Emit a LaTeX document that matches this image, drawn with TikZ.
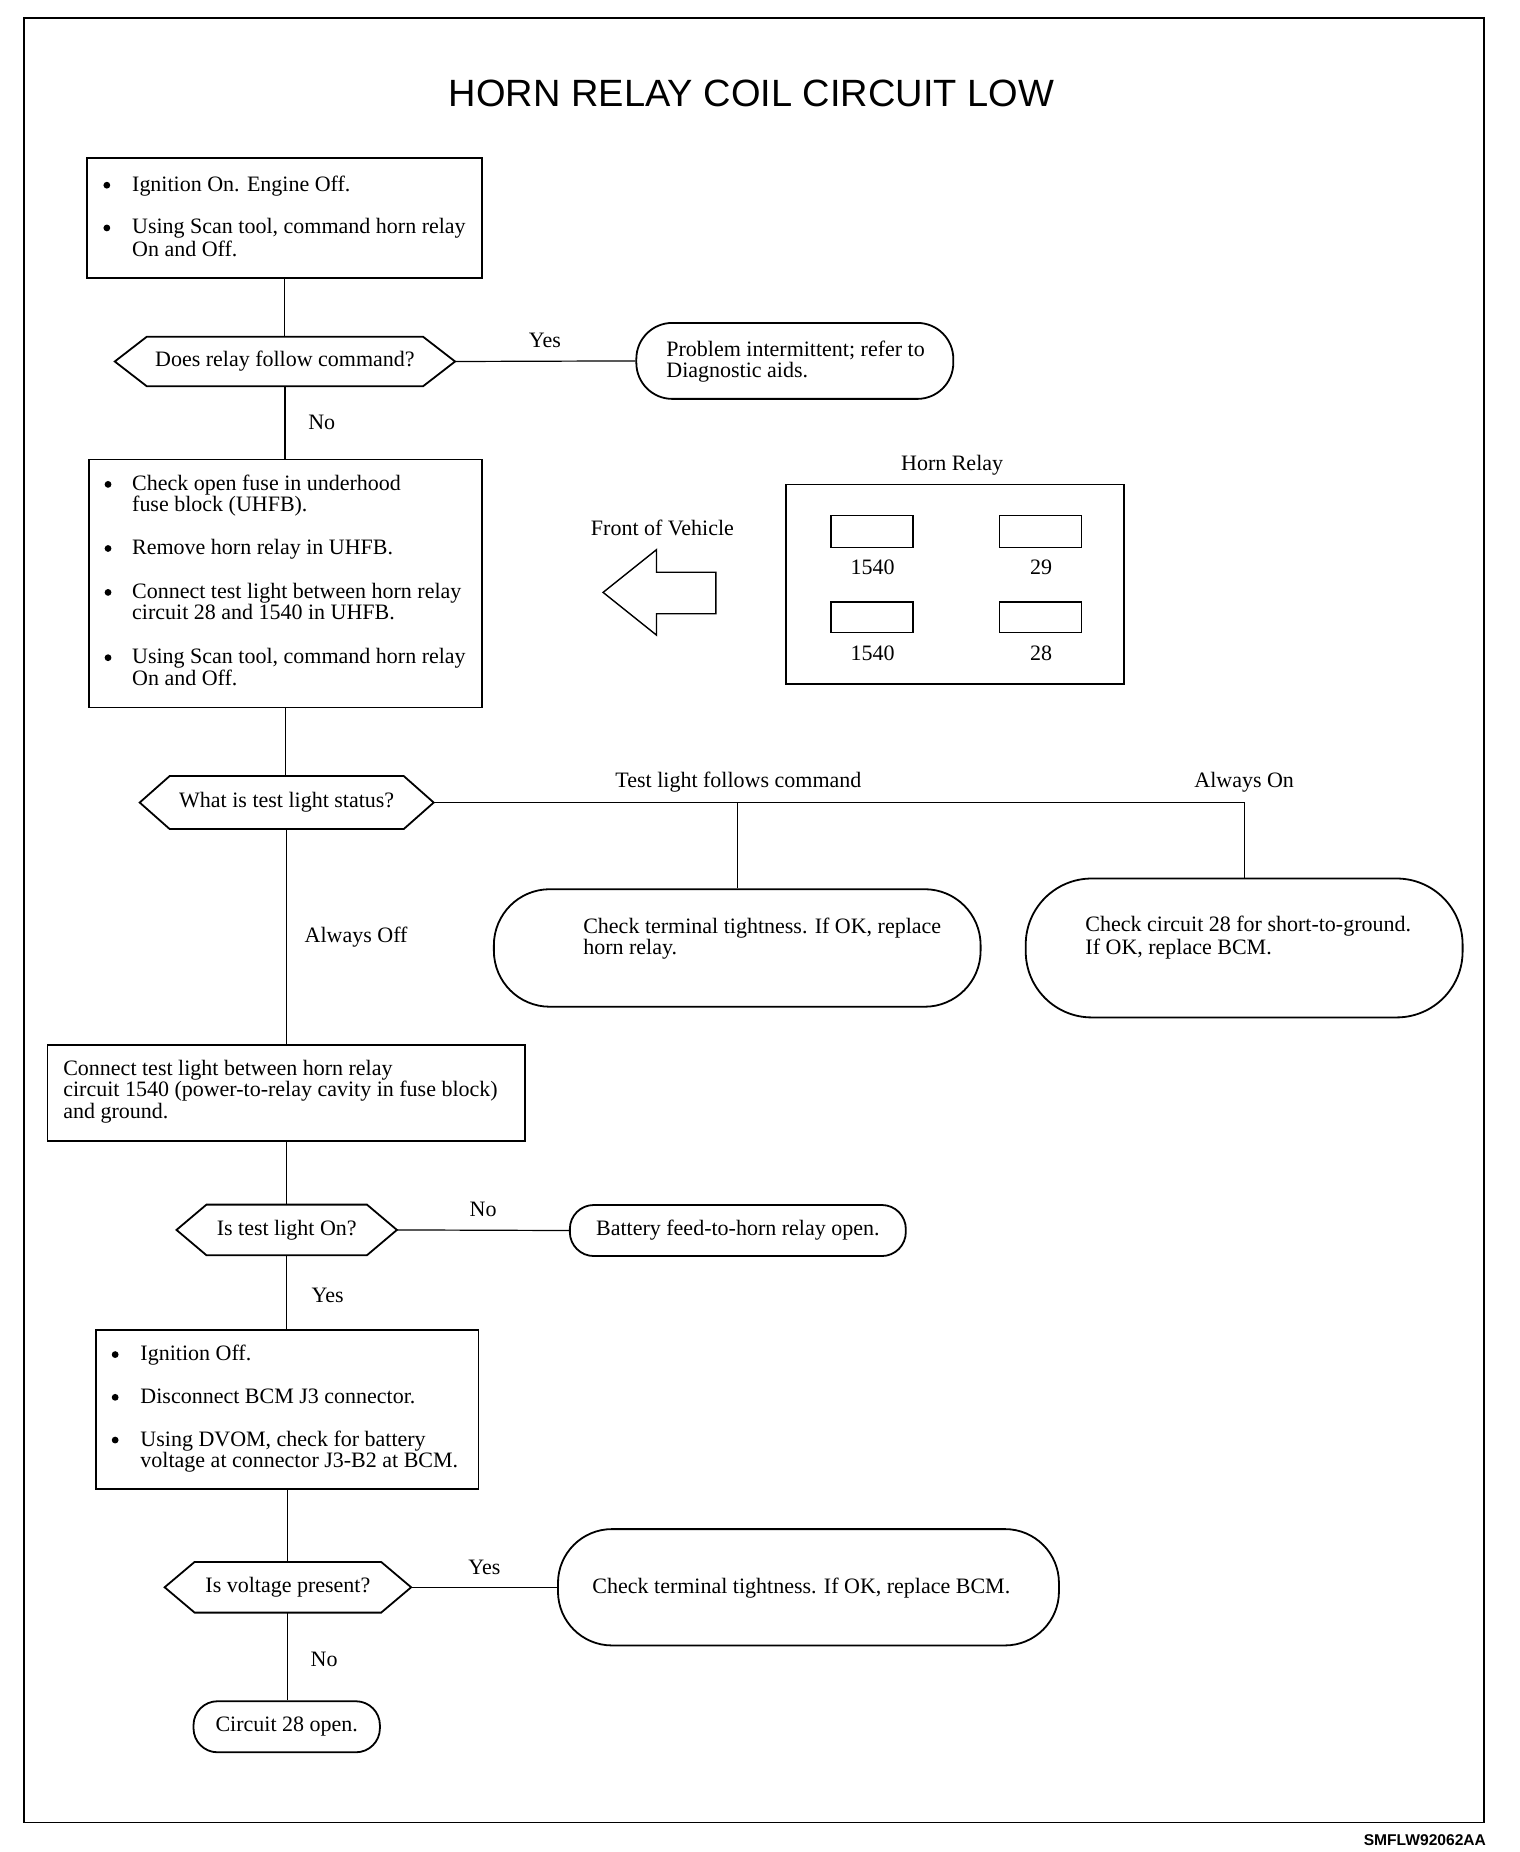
\documentclass[tikz,border=0pt]{standalone}
\usepackage{fontspec}
\setmainfont{Liberation Serif}
\newfontfamily\titlefont{Liberation Sans}
\newcommand\bodyf{\fontsize{11pt}{11pt}\selectfont}
\newcommand\hexdraw[2]{\draw[boxline] (#1.west) -- ([xshift=#2]#1.north west) -- ([xshift=-#2]#1.north east) -- (#1.east) -- ([xshift=-#2]#1.south east) -- ([xshift=#2]#1.south west) -- cycle;}
\begin{document}
\begin{tikzpicture}[x=0.59375pt,y=-0.59375pt,
  sz/.style 2 args={minimum width=#1*0.59375pt, minimum height=#2*0.59375pt},
  boxline/.style={line width=0.9pt, line join=miter},
  box/.style={draw, line width=0.9pt, inner sep=0, rectangle},
  rbox/.style={draw, line width=0.9pt, inner sep=0, rectangle, rounded corners=#1, font=\bodyf},
  hexn/.style={inner sep=0, rectangle, font=\bodyf},
  conn/.style={line width=0.6pt},
  txt/.style={anchor=base west, inner sep=0, font=\bodyf},
  ctxt/.style={anchor=base, inner sep=0, font=\bodyf},
  bul/.style={circle, fill, draw=none, inner sep=0, minimum size=3.4pt}
]
\useasboundingbox (0,0) rectangle (1280,1560);
% frame
\draw[line width=0.8pt] (20,15) rectangle (1250,1535);
% title
\node[anchor=base, inner sep=0, font=\titlefont\fontsize{19pt}{19pt}\selectfont] (title) at (633,89.5) {HORN RELAY COIL CIRCUIT LOW};
% footer
\node[anchor=base east, inner sep=0, font=\titlefont\bfseries\fontsize{7.8pt}{8pt}\selectfont] (foot) at (1252,1554.5) {SMFLW92062AA};

% ---------- box 1
\node[box, sz={333}{101}] (b1) at (239.5,183.5) {};
\node[bul] (b1u1) at (90,156) {};
\node[txt] (b1t1) at (111,161) {Ignition On. Engine Off.};
\node[bul] (b1u2) at (90,192) {};
\node[txt] (b1t2) at (111,197) {Using Scan tool, command horn relay};
\node[txt] (b1t3) at (111,216) {On and Off.};

% ---------- decision 1
\node[hexn, sz={286}{41}] (d1) at (240,304.5) {Does relay follow command?};
\hexdraw{d1}{16pt}
\node[rbox=18pt, sz={267}{64}] (r1) at (669.5,304) {};
\node[txt] (r1t1) at (561,300) {Problem intermittent; refer to};
\node[txt] (r1t2) at (561,318) {Diagnostic aids.};
\node[ctxt] (yes1) at (459,293) {Yes};
\node[ctxt] (no1) at (271,362) {No};

% ---------- box 2
\node[box, sz={331}{209}] (b2) at (240.5,491.5) {};
\node[bul] (b2u1) at (91,408) {};
\node[txt] (b2t1) at (111,413) {Check open fuse in underhood};
\node[txt] (b2t2) at (111,431) {fuse block (UHFB).};
\node[bul] (b2u2) at (91,462) {};
\node[txt] (b2t3) at (111,467) {Remove horn relay in UHFB.};
\node[bul] (b2u3) at (91,499) {};
\node[txt] (b2t4) at (111,504) {Connect test light between horn relay};
\node[txt] (b2t5) at (111,522) {circuit 28 and 1540 in UHFB.};
\node[bul] (b2u4) at (91,554) {};
\node[txt] (b2t6) at (111,559) {Using Scan tool, command horn relay};
\node[txt] (b2t7) at (111,577) {On and Off.};

% ---------- horn relay diagram
\node[ctxt] (hrl) at (802,396) {Horn Relay};
\node[draw, line width=0.8pt, inner sep=0, sz={285}{168}] (relay) at (804.5,492) {};
\node[draw, line width=0.7pt, inner sep=0, sz={69}{27}] (s1) at (734.5,447.5) {};
\node[draw, line width=0.7pt, inner sep=0, sz={69}{27}] (s2) at (876.5,447.5) {};
\node[draw, line width=0.7pt, inner sep=0, sz={69}{26}] (s3) at (734.5,520) {};
\node[draw, line width=0.7pt, inner sep=0, sz={69}{26}] (s4) at (876.5,520) {};
\node[ctxt] (n1) at (735,484) {1540};
\node[ctxt] (n2) at (877,484) {29};
\node[ctxt] (n3) at (735,556) {1540};
\node[ctxt] (n4) at (877,556) {28};
\node[ctxt] (fov) at (558,451) {Front of Vehicle};
\draw[line width=0.7pt, line join=miter] (508,499) -- (553,463) -- (553,482) -- (603,482) -- (603,517) -- (553,517) -- (553,535) -- cycle;

% ---------- decision 2
\node[hexn, sz={247}{44}] (d2) at (241.5,676) {What is test light status?};
\hexdraw{d2}{15pt}
\node[rbox=28pt, sz={410}{99}] (r3) at (621,798.5) {};
\node[txt] (r3t1) at (491,786) {Check terminal tightness. If OK, replace};
\node[txt] (r3t2) at (491,804) {horn relay.};
\node[rbox=33pt, sz={368}{117}] (r4) at (1048,798.5) {};
\node[txt] (r4t1) at (914,785) {Check circuit 28 for short-to-ground.};
\node[txt] (r4t2) at (914,804) {If OK, replace BCM.};
\node[ctxt] (tlfc) at (622,663) {Test light follows command};
\node[ctxt] (aon) at (1048,663) {Always On};
\node[ctxt] (aoff) at (300,794) {Always Off};

% ---------- box 3
\node[box, sz={402}{81}] (b3) at (241,920.5) {};
\node[txt] (b3t1) at (53,906) {Connect test light between horn relay};
\node[txt] (b3t2) at (53,924) {circuit 1540 (power-to-relay cavity in fuse block)};
\node[txt] (b3t3) at (53,942) {and ground.};

% ---------- decision 3
\node[hexn, sz={185}{42}] (d3) at (241.5,1036) {Is test light On?};
\hexdraw{d3}{15pt}
\node[rbox=12pt, sz={283}{43}] (r5) at (621.5,1036.5) {Battery feed-to-horn relay open.};
\node[ctxt] (no3) at (407,1025) {No};
\node[ctxt] (yes3) at (276,1097) {Yes};

% ---------- box 4
\node[box, sz={322}{134}] (b4) at (242,1187) {};
\node[bul] (b4u1) at (97,1141) {};
\node[txt] (b4t1) at (118,1146) {Ignition Off.};
\node[bul] (b4u2) at (97,1177) {};
\node[txt] (b4t2) at (118,1182) {Disconnect BCM J3 connector.};
\node[bul] (b4u3) at (97,1213) {};
\node[txt] (b4t3) at (118,1218) {Using DVOM, check for battery};
\node[txt] (b4t4) at (118,1236) {voltage at connector J3-B2 at BCM.};

% ---------- decision 4
\node[hexn, sz={207}{42}] (d4) at (242.5,1337) {Is voltage present?};
\hexdraw{d4}{15pt}
\node[rbox=27pt, sz={422}{98}] (r6) at (681,1337) {};
\node[ctxt] (r6t) at (675,1342) {Check terminal tightness. If OK, replace BCM.};
\node[ctxt] (yes4) at (408,1326) {Yes};
\node[ctxt] (no4) at (273,1404) {No};
\node[rbox=12pt, sz={157}{43}] (r7) at (241.5,1454.5) {Circuit 28 open.};

% ---------- connectors
\draw[conn] (b1.south) -- (b1.south |- d1.north);
\draw[conn] (d1.east) -- (r1.west);
\draw[conn] (d1.south) -- (d1.south |- b2.north);
\draw[conn] (b2.south) -- (b2.south |- d2.north);
\draw[conn] (d2.east) -- (d2.east -| r4.north) -- (r4.north);
\draw[conn] (d2.east -| r3.north) -- (r3.north);
\draw[conn] (d2.south) -- (d2.south |- b3.north);
\draw[conn] (b3.south) -- (b3.south |- d3.north);
\draw[conn] (d3.east) -- (r5.west);
\draw[conn] (d3.south) -- (d3.south |- b4.north);
\draw[conn] (b4.south) -- (b4.south |- d4.north);
\draw[conn] (d4.east) -- (r6.west);
\draw[conn] (d4.south) -- (d4.south |- r7.north);
\end{tikzpicture}
\end{document}
